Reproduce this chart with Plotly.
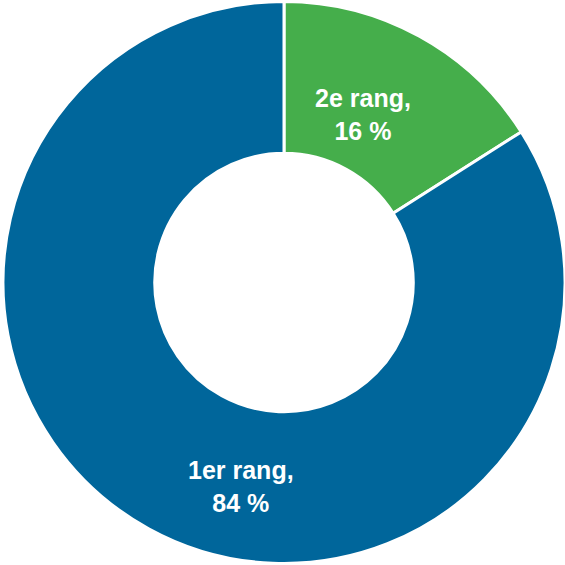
import plotly.graph_objects as go

labels = ["2e rang", "1er rang"]
values = [16, 84]
colors = ["#45AE4B", "#00669B"]
label_pos = [(0.640, 0.798), (0.424, 0.138)]

fig = go.Figure(go.Pie(
    labels=labels, values=values, hole=0.46, sort=False, direction="clockwise",
    rotation=0, marker=dict(colors=colors, line=dict(color="white", width=3)),
    textinfo="none", hoverinfo="label+percent", showlegend=False,
))
for lab, val, (x, y) in zip(labels, values, label_pos):
    fig.add_annotation(x=x, y=y, xref="paper", yref="paper", showarrow=False,
                       xanchor="center", yanchor="middle",
                       text=f"<b>{lab},<br>{val} %</b>", align="center",
                       font=dict(family="Liberation Sans, Arial", size=25, color="white"))
fig.update_layout(width=565, height=565, margin=dict(l=3, r=0, t=1, b=1),
                  paper_bgcolor="white", plot_bgcolor="white")
fig.write_html("out.html", config={"displayModeBar": False},
               post_script="document.body.style.margin='0';document.body.style.overflow='hidden';")
